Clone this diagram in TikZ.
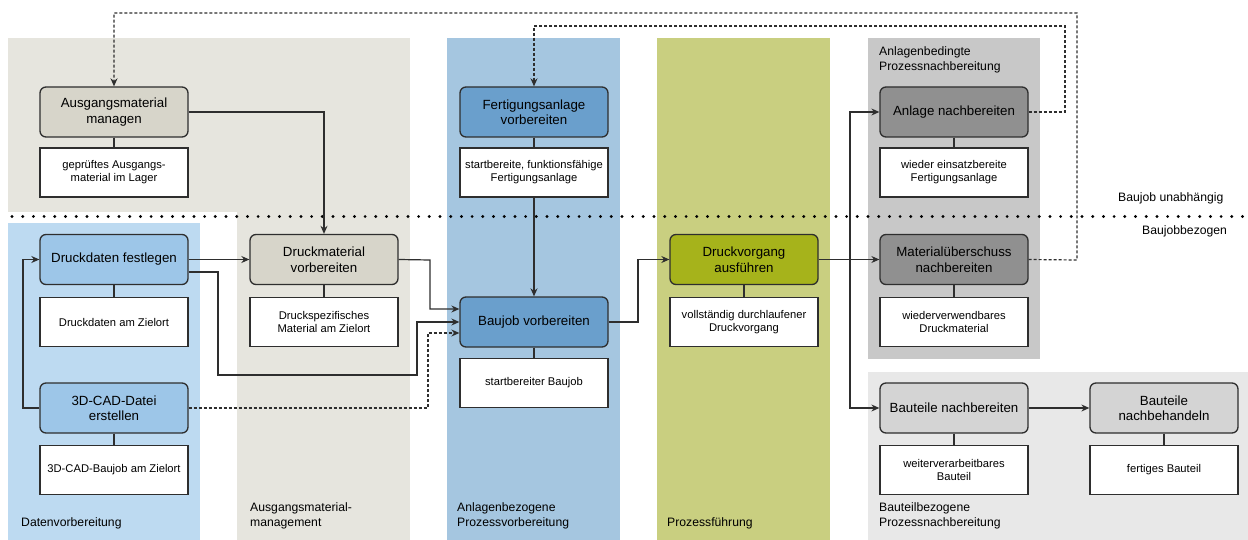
\documentclass[tikz,border=0pt]{standalone}
\usepackage{fontspec}
\setmainfont{Liberation Sans}
\usetikzlibrary{arrows.meta}
\definecolor{laneAM}{HTML}{E6E5DE}
\definecolor{laneDV}{HTML}{BDDAF1}
\definecolor{laneAV}{HTML}{A5C6E0}
\definecolor{lanePF}{HTML}{C9CF80}
\definecolor{laneAN}{HTML}{C8C8C8}
\definecolor{laneBT}{HTML}{E8E8E8}
\definecolor{nodeAM}{HTML}{D7D5CA}
\definecolor{nodeDV}{HTML}{9DC6E8}
\definecolor{nodeAV}{HTML}{6A9FCC}
\definecolor{nodePF}{HTML}{A6B31B}
\definecolor{nodeAN}{HTML}{909090}
\definecolor{nodeBT}{HTML}{D4D4D4}
\definecolor{edge}{HTML}{2E2E2E}
\tikzset{
  task/.style={draw=edge, line width=1.3pt, rounded corners=6pt, minimum width=148pt, minimum height=50pt, align=center, inner sep=2pt, font=\fontsize{13.3}{15.5}\selectfont},
  outbox/.style={draw=edge, line width=1.2pt, fill=white, minimum width=148pt, minimum height=49pt, align=center, inner sep=2pt, font=\fontsize{11.2}{13}\selectfont},
  lanelbl/.style={anchor=west, align=left, inner sep=0pt, font=\fontsize{12.2}{15}\selectfont},
  conn/.style={draw=edge, line width=1.2pt, -{Stealth[length=8pt,width=7pt]}},
  link/.style={draw=edge, line width=1.2pt},
  dconn/.style={draw=edge, line width=1.2pt, dash pattern=on 3pt off 2pt, -{Stealth[length=8pt,width=7pt]}}
}
\begin{document}
\begin{tikzpicture}[x=1pt,y=-1pt]
\useasboundingbox (0,0) rectangle (1248,540);
% lanes
\fill[laneAM] (8,38) rectangle (410,212);
\fill[laneAM] (237,212) rectangle (410,540);
\fill[laneDV] (8,223) rectangle (200,540);
\fill[laneAV] (447,38) rectangle (620,540);
\fill[lanePF] (657,38) rectangle (830,540);
\fill[laneAN] (868,38) rectangle (1040,359);
\fill[laneBT] (868,372) rectangle (1248,540);
% separator
\draw[black, line width=3.2pt, line cap=round, dash pattern=on 0pt off 10.7pt] (12,216.5) -- (1248,216.5);
% lane labels
\node[lanelbl] (l1) at (21,523) {Datenvorbereitung};
\node[lanelbl] (l2) at (250,515.5) {Ausgangsmaterial-\\management};
\node[lanelbl] (l3) at (457,515.5) {Anlagenbezogene\\Prozessvorbereitung};
\node[lanelbl] (l4) at (667,523) {Prozessführung};
\node[lanelbl] (l5) at (879,515.5) {Bauteilbezogene\\Prozessnachbereitung};
\node[lanelbl] (l6) at (879,59.5) {Anlagenbedingte\\Prozessnachbereitung};
\node[lanelbl] (l7) at (1118,198) {Baujob unabhängig};
\node[lanelbl] (l8) at (1142,231) {Baujobbezogen};
% task nodes
\node[task, fill=nodeAM] (am) at (114,112) {Ausgangsmaterial\\managen};
\node[outbox] (amo) at (114,172.5) {geprüftes Ausgangs-\\material im Lager};
\node[task, fill=nodeDV] (dd) at (114,259.5) {Druckdaten festlegen};
\node[outbox] (ddo) at (114,322) {Druckdaten am Zielort};
\node[task, fill=nodeAM] (dm) at (324,259.5) {Druckmaterial\\vorbereiten};
\node[outbox] (dmo) at (324,322) {Druckspezifisches\\Material am Zielort};
\node[task, fill=nodeDV] (cad) at (114,408) {3D-CAD-Datei\\erstellen};
\node[outbox] (cado) at (114,470) {3D-CAD-Baujob am Zielort};
\node[task, fill=nodeAV] (fa) at (534,112) {Fertigungsanlage\\vorbereiten};
\node[outbox] (fao) at (534,172.5) {startbereite, funktionsfähige\\Fertigungsanlage};
\node[task, fill=nodeAV] (bj) at (534,322) {Baujob vorbereiten};
\node[outbox] (bjo) at (534,383) {startbereiter Baujob};
\node[task, fill=nodePF] (dv) at (744,259.5) {Druckvorgang\\ausführen};
\node[outbox] (dvo) at (744,322) {vollständig durchlaufener\\Druckvorgang};
\node[task, fill=nodeAN] (an) at (954,112) {Anlage nachbereiten};
\node[outbox] (ano) at (954,172.5) {wieder einsatzbereite\\Fertigungsanlage};
\node[task, fill=nodeAN] (mu) at (954,259.5) {Materialüberschuss\\nachbereiten};
\node[outbox] (muo) at (954,322) {wiederverwendbares\\Druckmaterial};
\node[task, fill=nodeBT] (btn) at (954,408) {Bauteile nachbereiten};
\node[outbox] (btno) at (954,470) {weiterverarbeitbares\\Bauteil};
\node[task, fill=nodeBT] (bth) at (1164,408) {Bauteile\\nachbehandeln};
\node[outbox] (btho) at (1164,470) {fertiges Bauteil};
% node-output links
\foreach \a/\b in {am/amo,dd/ddo,dm/dmo,cad/cado,fa/fao,bj/bjo,dv/dvo,an/ano,mu/muo,btn/btno,bth/btho}
  \draw[link] (\a.south) -- (\b.north);
% coordinates
\coordinate (c1) at (1077,13);
\coordinate (c2) at (1065,26);
\coordinate (c3) at (850,260);
% dotted feedback loops
\draw[dconn] (mu.east) -- (1077,260) -- (c1) -| (am.north);
\draw[dconn] (an.east) -- (1065,112) -- (c2) -| (fa.north);
% solid connectors
\draw[conn] (am.east) -| (dm.north);
\draw[conn] (dd.east) -- (dm.west);
\draw[conn] (dd.east |- 0,272) -- (218,272) -- (218,375) -- (417,375) |- (bj.west);
\draw[conn] (dm.east) -- (430,260) |- ([yshift=13pt]bj.west);
\draw[dconn] (cad.east) -- (428,408) |- ([yshift=-11pt]bj.west);
\draw[conn] (cad.west) -- (23,408) |- (dd.west);
\draw[conn] (fao.south) -- (bj.north);
\draw[conn] (bj.east) -- (638,322) |- (dv.west);
\draw[conn] (dv.east) -- (mu.west);
\draw[conn] (c3) |- (an.west);
\draw[conn] (c3) |- (btn.west);
\draw[conn] (btn.east) -- (bth.west);
\end{tikzpicture}
\end{document}
